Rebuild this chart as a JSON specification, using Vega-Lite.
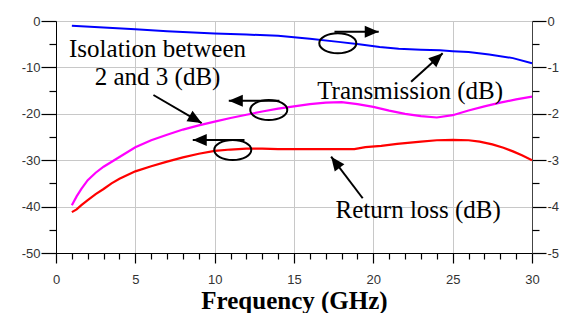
{
  "$schema": "https://vega.github.io/schema/vega-lite/v6.json",
  "width": 476,
  "height": 232,
  "autosize": {"type": "none"},
  "padding": {"left": 56, "top": 21, "right": 33, "bottom": 60},
  "background": "white",
  "config": {
    "view": {"stroke": "#444", "strokeWidth": 1},
    "axis": {
      "labelFont": "Liberation Sans",
      "labelFontSize": 13,
      "labelColor": "#333",
      "domainColor": "#000",
      "tickColor": "#000",
      "gridColor": "#c8c8c8",
      "labelOverlap": false,
      "labelFlush": false,
      "labelBound": false
    }
  },
  "datasets": {
    "curves": [
      {"f": 1, "db": -39.7, "s": "Isolation"}, {"f": 1.3, "db": -37.8, "s": "Isolation"}, {"f": 1.6, "db": -36.2, "s": "Isolation"}, {"f": 2, "db": -34.3, "s": "Isolation"}, {"f": 2.5, "db": -32.7, "s": "Isolation"}, {"f": 3, "db": -31.4, "s": "Isolation"}, {"f": 4, "db": -29.3, "s": "Isolation"}, {"f": 5, "db": -27.2, "s": "Isolation"}, {"f": 6, "db": -25.7, "s": "Isolation"}, {"f": 7, "db": -24.5, "s": "Isolation"}, {"f": 8, "db": -23.4, "s": "Isolation"}, {"f": 9, "db": -22.5, "s": "Isolation"}, {"f": 10, "db": -21.7, "s": "Isolation"}, {"f": 11, "db": -20.9, "s": "Isolation"}, {"f": 12, "db": -20.2, "s": "Isolation"}, {"f": 13, "db": -19.5, "s": "Isolation"}, {"f": 14, "db": -18.9, "s": "Isolation"}, {"f": 15, "db": -18.4, "s": "Isolation"}, {"f": 16, "db": -17.9, "s": "Isolation"}, {"f": 17, "db": -17.6, "s": "Isolation"}, {"f": 18, "db": -17.5, "s": "Isolation"}, {"f": 19, "db": -17.9, "s": "Isolation"}, {"f": 20, "db": -18.5, "s": "Isolation"}, {"f": 21, "db": -19.3, "s": "Isolation"}, {"f": 22, "db": -20.0, "s": "Isolation"}, {"f": 23, "db": -20.5, "s": "Isolation"}, {"f": 24, "db": -20.8, "s": "Isolation"}, {"f": 25, "db": -20.3, "s": "Isolation"}, {"f": 26, "db": -19.3, "s": "Isolation"}, {"f": 27, "db": -18.4, "s": "Isolation"}, {"f": 28, "db": -17.6, "s": "Isolation"}, {"f": 29, "db": -16.9, "s": "Isolation"}, {"f": 30, "db": -16.3, "s": "Isolation"},
      {"f": 1, "db": -41.2, "s": "Return loss"}, {"f": 1.3, "db": -40.6, "s": "Return loss"}, {"f": 1.6, "db": -39.7, "s": "Return loss"}, {"f": 2, "db": -38.6, "s": "Return loss"}, {"f": 2.5, "db": -37.3, "s": "Return loss"}, {"f": 3, "db": -36.2, "s": "Return loss"}, {"f": 3.5, "db": -35.0, "s": "Return loss"}, {"f": 4, "db": -34.0, "s": "Return loss"}, {"f": 5, "db": -32.4, "s": "Return loss"}, {"f": 6, "db": -31.3, "s": "Return loss"}, {"f": 7, "db": -30.3, "s": "Return loss"}, {"f": 8, "db": -29.4, "s": "Return loss"}, {"f": 9, "db": -28.6, "s": "Return loss"}, {"f": 10, "db": -28.0, "s": "Return loss"}, {"f": 11, "db": -27.7, "s": "Return loss"}, {"f": 12, "db": -27.5, "s": "Return loss"}, {"f": 13, "db": -27.5, "s": "Return loss"}, {"f": 14, "db": -27.6, "s": "Return loss"}, {"f": 15, "db": -27.6, "s": "Return loss"}, {"f": 16, "db": -27.6, "s": "Return loss"}, {"f": 17, "db": -27.6, "s": "Return loss"}, {"f": 18, "db": -27.6, "s": "Return loss"}, {"f": 18.8, "db": -27.6, "s": "Return loss"}, {"f": 19.5, "db": -27.2, "s": "Return loss"}, {"f": 20.5, "db": -26.9, "s": "Return loss"}, {"f": 21.5, "db": -26.5, "s": "Return loss"}, {"f": 23, "db": -26.0, "s": "Return loss"}, {"f": 24, "db": -25.7, "s": "Return loss"}, {"f": 25, "db": -25.6, "s": "Return loss"}, {"f": 26, "db": -25.7, "s": "Return loss"}, {"f": 26.7, "db": -26.0, "s": "Return loss"}, {"f": 27.5, "db": -26.6, "s": "Return loss"}, {"f": 28.2, "db": -27.3, "s": "Return loss"}, {"f": 28.8, "db": -28.1, "s": "Return loss"}, {"f": 29.4, "db": -29.0, "s": "Return loss"}, {"f": 30, "db": -30.0, "s": "Return loss"}
    ],
    "transmission": [
      {"f": 1, "db": -0.10}, {"f": 3, "db": -0.14}, {"f": 5, "db": -0.18}, {"f": 7, "db": -0.22}, {"f": 10, "db": -0.27}, {"f": 12, "db": -0.29}, {"f": 14, "db": -0.32}, {"f": 16, "db": -0.38}, {"f": 17.8, "db": -0.45}, {"f": 19.1, "db": -0.50}, {"f": 20.4, "db": -0.56}, {"f": 21.6, "db": -0.60}, {"f": 23, "db": -0.62}, {"f": 24.2, "db": -0.63}, {"f": 25, "db": -0.65}, {"f": 26, "db": -0.67}, {"f": 27.3, "db": -0.72}, {"f": 28.8, "db": -0.80}, {"f": 30, "db": -0.91}
    ],
    "arrows": [
      {"x": 6.14, "y": -15.95, "x2": 9.18, "y2": -22.0, "angle": 30},
      {"x": 14.08, "y": -17.18, "x2": 10.89, "y2": -17.18, "angle": 180},
      {"x": 11.88, "y": -25.65, "x2": 8.62, "y2": -25.65, "angle": 180},
      {"x": 17.55, "y": -2.3, "x2": 20.34, "y2": -2.3, "angle": 0},
      {"x": 22.38, "y": -13.08, "x2": 24.37, "y2": -6.96, "angle": 318},
      {"x": 19.33, "y": -38.2, "x2": 17.34, "y2": -29.24, "angle": 233}
    ],
    "ellipses": [
      {"x": 17.76, "y": -4.8},
      {"x": 13.41, "y": -19.18},
      {"x": 11.14, "y": -27.8}
    ],
    "labels": [
      {"x": 6.4, "y": -7.69, "text": "Isolation between"},
      {"x": 6.4, "y": -13.8, "text": "2 and 3 (dB)"},
      {"x": 22.32, "y": -16.9, "text": "Transmission (dB)"},
      {"x": 22.83, "y": -42.5, "text": "Return loss (dB)"}
    ]
  },
  "layer": [
    {
      "data": {"name": "curves"},
      "mark": {"type": "line", "strokeWidth": 2.2},
      "encoding": {
        "x": {
          "field": "f", "type": "quantitative",
          "scale": {"domain": [0, 30], "nice": false, "zero": false},
          "axis": {
            "orient": "bottom",
            "values": [0, 5, 10, 15, 20, 25, 30],
            "tickSize": 10,
            "tickColor": "#000",
            "tickWidth": 1.2,
            "domainColor": "#000",
            "labelPadding": 10,
            "grid": true,
            "title": "Frequency (GHz)",
            "titleFont": "Liberation Serif",
            "titleFontWeight": "bold",
            "titleFontSize": 25,
            "titleColor": "#000",
            "titlePadding": 2
          }
        },
        "y": {
          "field": "db", "type": "quantitative",
          "scale": {"domain": [-50, 0], "nice": false, "zero": false},
          "axis": {
            "orient": "left",
            "values": [-50, -40, -30, -20, -10, 0],
            "tickSize": 15,
            "tickColor": "#000",
            "tickWidth": 1.2,
            "domainColor": "#000",
            "labelExpr": "datum.value == 0 ? '0' : '-' + abs(datum.value)",
            "labelPadding": 1,
            "grid": true,
            "title": null
          }
        },
        "color": {
          "field": "s", "type": "nominal",
          "scale": {"domain": ["Isolation", "Return loss"], "range": ["#ff00ff", "#ff0000"]},
          "legend": null
        }
      }
    },
    {
      "data": {"name": "transmission"},
      "mark": {"type": "line", "strokeWidth": 2, "color": "#0000ff"},
      "encoding": {
        "x": {
          "field": "f", "type": "quantitative",
          "scale": {"domain": [0, 30], "nice": false, "zero": false},
          "axis": {
            "orient": "bottom",
            "values": [1,2,3,4,6,7,8,9,11,12,13,14,16,17,18,19,21,22,23,24,26,27,28,29],
            "tickSize": 6,
            "tickColor": "#000",
            "tickWidth": 1.2,
            "labels": false,
            "domain": false,
            "grid": false,
            "title": null
          }
        },
        "y": {
          "field": "db", "type": "quantitative",
          "scale": {"domain": [-5, 0], "nice": false, "zero": false},
          "axis": {
            "orient": "right",
            "values": [-5, -4, -3, -2, -1, 0],
            "tickSize": 14,
            "tickColor": "#000",
            "tickWidth": 1.2,
            "labelExpr": "datum.value == 0 ? '0' : '-' + abs(datum.value)",
            "labelPadding": 1,
            "domainColor": "#444",
            "grid": false,
            "title": null
          }
        }
      }
    },
    {
      "data": {"name": "transmission"},
      "mark": {"type": "line", "opacity": 0},
      "encoding": {
        "x": {"field": "f", "type": "quantitative", "scale": {"domain": [0, 30], "nice": false, "zero": false}, "axis": null},
        "y": {
          "field": "db", "type": "quantitative",
          "scale": {"domain": [-5, 0], "nice": false, "zero": false},
          "axis": {
            "orient": "right",
            "values": [-4.5, -3.5, -2.5, -1.5, -0.5],
            "tickSize": 7,
            "tickColor": "#000",
            "tickWidth": 1.2,
            "labels": false,
            "domain": false,
            "grid": false,
            "title": null
          }
        }
      }
    },
    {
      "data": {"name": "transmission"},
      "mark": {"type": "line", "opacity": 0},
      "encoding": {
        "x": {"field": "f", "type": "quantitative", "scale": {"domain": [0, 30], "nice": false, "zero": false}, "axis": null},
        "y": {
          "field": "db", "type": "quantitative",
          "scale": {"domain": [-5, 0], "nice": false, "zero": false},
          "axis": {
            "orient": "left",
            "values": [-4.5, -3.5, -2.5, -1.5, -0.5],
            "tickSize": 7,
            "tickColor": "#000",
            "tickWidth": 1.2,
            "labels": false,
            "domain": false,
            "grid": false,
            "title": null
          }
        }
      }
    },
    {
      "data": {"name": "arrows"},
      "mark": {"type": "rule", "strokeWidth": 2, "color": "#000"},
      "encoding": {
        "x": {"field": "x", "type": "quantitative", "scale": {"domain": [0, 30], "nice": false, "zero": false}, "axis": null},
        "y": {"field": "y", "type": "quantitative", "scale": {"domain": [-50, 0], "nice": false, "zero": false}, "axis": null},
        "x2": {"field": "x2"},
        "y2": {"field": "y2"}
      }
    },
    {
      "data": {"name": "arrows"},
      "mark": {"type": "point", "shape": "M0,0L-1,0.43L-1,-0.43Z", "filled": true, "color": "#000", "opacity": 1, "size": 784},
      "encoding": {
        "x": {"field": "x2", "type": "quantitative", "scale": {"domain": [0, 30], "nice": false, "zero": false}, "axis": null},
        "y": {"field": "y2", "type": "quantitative", "scale": {"domain": [-50, 0], "nice": false, "zero": false}, "axis": null},
        "angle": {"field": "angle", "type": "quantitative", "scale": null}
      }
    },
    {
      "data": {"name": "ellipses"},
      "mark": {"type": "point", "shape": "M-1,0A1,0.54,0,1,1,1,0A1,0.54,0,1,1,-1,0Z", "filled": false, "color": "#000", "strokeWidth": 2, "opacity": 1, "size": 1369},
      "encoding": {
        "x": {"field": "x", "type": "quantitative", "scale": {"domain": [0, 30], "nice": false, "zero": false}, "axis": null},
        "y": {"field": "y", "type": "quantitative", "scale": {"domain": [-50, 0], "nice": false, "zero": false}, "axis": null}
      }
    },
    {
      "data": {"name": "labels"},
      "mark": {"type": "text", "font": "Liberation Serif", "fontSize": 25, "color": "#000", "align": "center", "baseline": "alphabetic"},
      "encoding": {
        "x": {"field": "x", "type": "quantitative", "scale": {"domain": [0, 30], "nice": false, "zero": false}, "axis": null},
        "y": {"field": "y", "type": "quantitative", "scale": {"domain": [-50, 0], "nice": false, "zero": false}, "axis": null},
        "text": {"field": "text"}
      }
    }
  ],
  "resolve": {"scale": {"x": "independent", "y": "independent"}}
}
